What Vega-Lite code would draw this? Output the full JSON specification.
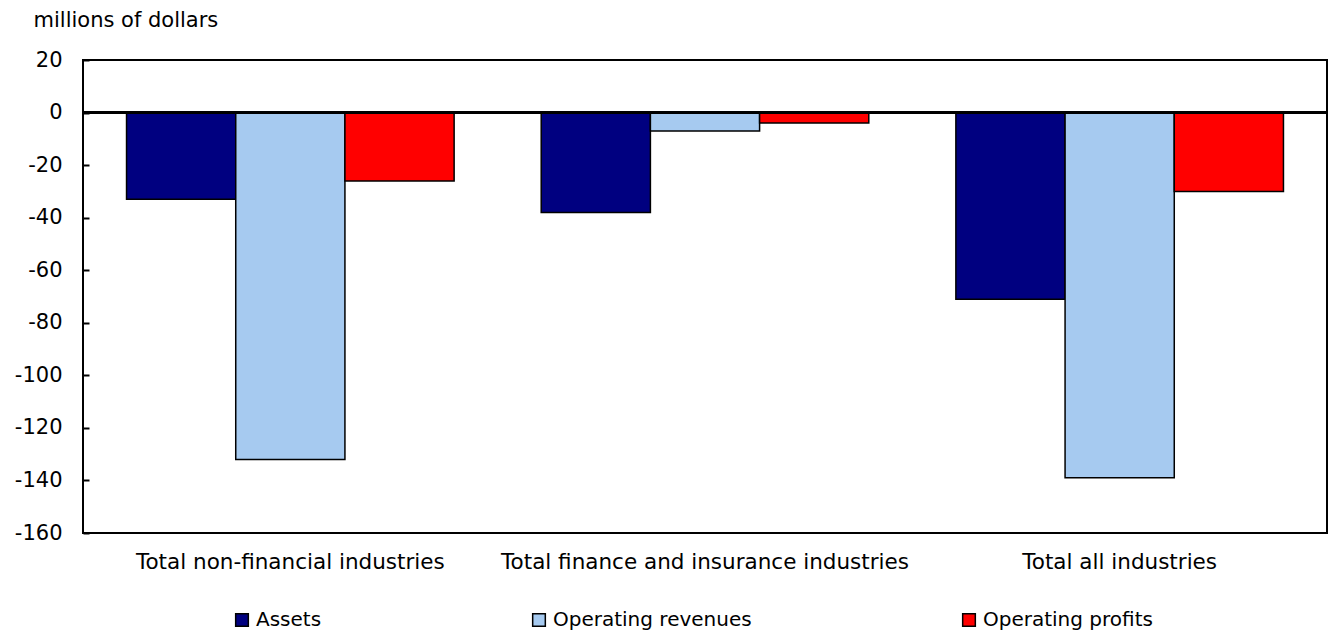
{
  "$schema": "https://vega.github.io/schema/vega-lite/v6.json",
  "width": 1244,
  "height": 473,
  "autosize": {"type": "none"},
  "padding": {"left": 83, "top": 60, "right": 3, "bottom": 101},
  "background": "white",
  "config": {
    "font": "DejaVu Sans",
    "view": {"stroke": "black", "strokeWidth": 2},
    "axis": {"labelFont": "DejaVu Sans", "labelColor": "black", "labelFontSize": 20, "titleFont": "DejaVu Sans"},
    "legend": {"labelFont": "DejaVu Sans", "labelColor": "black", "labelFontSize": 20}
  },
  "data": {
    "values": [
      {"industry": "Total non-financial industries", "series": "Assets", "value": -33},
      {"industry": "Total non-financial industries", "series": "Operating revenues", "value": -132},
      {"industry": "Total non-financial industries", "series": "Operating profits", "value": -26},
      {"industry": "Total finance and insurance industries", "series": "Assets", "value": -38},
      {"industry": "Total finance and insurance industries", "series": "Operating revenues", "value": -7},
      {"industry": "Total finance and insurance industries", "series": "Operating profits", "value": -4},
      {"industry": "Total all industries", "series": "Assets", "value": -71},
      {"industry": "Total all industries", "series": "Operating revenues", "value": -139},
      {"industry": "Total all industries", "series": "Operating profits", "value": -30}
    ]
  },
  "layer": [
    {
      "mark": {"type": "bar", "stroke": "black", "strokeWidth": 1.5},
      "encoding": {
        "x": {
          "field": "industry", "type": "nominal",
          "sort": ["Total non-financial industries", "Total finance and insurance industries", "Total all industries"],
          "scale": {"paddingInner": 0.21, "paddingOuter": 0.105},
          "axis": {"title": null, "labelAngle": 0, "ticks": false, "domain": false, "labelPadding": 18, "labelLimit": 500, "labelFontSize": 21.5}
        },
        "xOffset": {
          "field": "series", "type": "nominal",
          "sort": ["Assets", "Operating revenues", "Operating profits"],
          "scale": {"paddingInner": 0, "paddingOuter": 0}
        },
        "y": {
          "field": "value", "type": "quantitative",
          "scale": {"domain": [-160, 20], "nice": false, "zero": false},
          "axis": {
            "title": "millions of dollars", "titleAngle": 0, "titleAlign": "left", "titleBaseline": "middle",
            "titleX": -50, "titleY": -40, "titleFontSize": 21, "titleFontWeight": "normal", "titleColor": "black",
            "values": [-160, -140, -120, -100, -80, -60, -40, -20, 0, 20],
            "labelExpr": "'' + datum.value", "labelFontSize": 21,
            "grid": false, "domain": false, "tickColor": "black", "tickSize": -6, "tickWidth": 2, "labelPadding": 27
          }
        },
        "color": {
          "field": "series", "type": "nominal",
          "sort": ["Assets", "Operating revenues", "Operating profits"],
          "scale": {"domain": ["Assets", "Operating revenues", "Operating profits"], "range": ["#000080", "#A6CAF0", "#FF0000"]},
          "legend": {
            "title": null, "orient": "none", "direction": "horizontal", "columns": 3,
            "legendX": 149, "legendY": 550, "symbolType": "square", "symbolSize": 160,
            "symbolStrokeColor": "black", "symbolStrokeWidth": 1.5, "symbolOffset": 0,
            "labelOffset": 4, "columnPadding": 207, "gridAlign": "none", "labelFontSize": 20, "labelLimit": 400
          }
        }
      }
    },
    {
      "mark": {"type": "rule", "color": "black", "strokeWidth": 2.5},
      "encoding": {"y": {"datum": 0}}
    }
  ]
}
